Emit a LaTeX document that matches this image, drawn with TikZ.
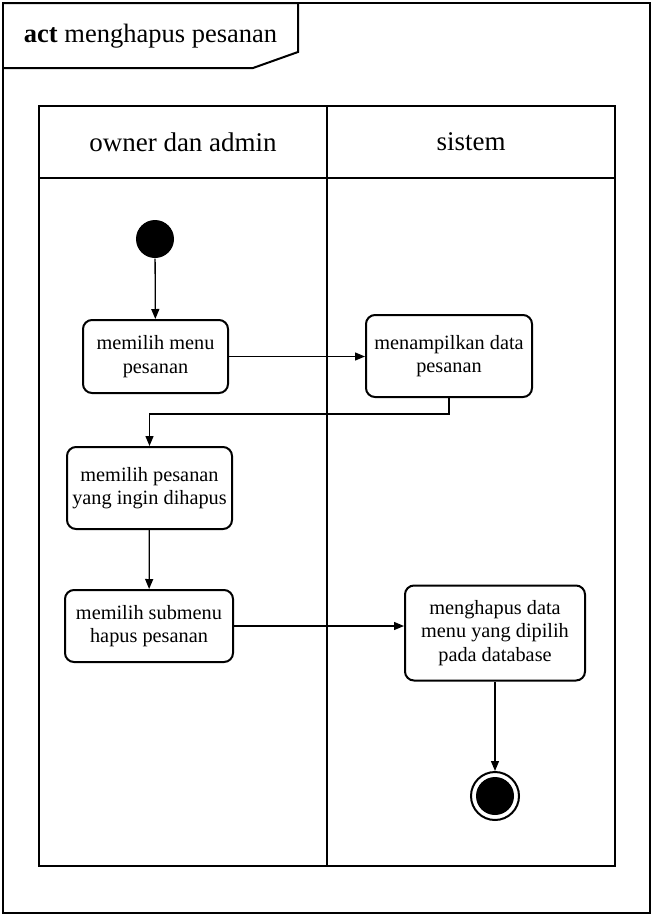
\documentclass[tikz,border=0pt]{standalone}
\usepackage{fontspec}
\setmainfont{Liberation Serif}
\usetikzlibrary{arrows.meta}
\begin{document}
\begin{tikzpicture}[x=1pt,y=-1pt,>={Triangle[length=10pt,width=8pt]},line width=1.3pt,
		activity/.style={draw,line width=2pt,rounded corners=9pt,align=center,inner sep=0pt,font=\fontsize{20.3}{23.5}\selectfont},
		lane/.style={font=\fontsize{27}{31}\selectfont}]
	\useasboundingbox (0,0) rectangle (653,916);
	% frame and title
	\draw[line width=2pt] (3,3) rectangle (650,913);
	\draw[line width=2pt] (3,3) -- (298,3) -- (298,52) -- (253,68) -- (3,68);
	\node[anchor=west,font=\fontsize{26.5}{30}\selectfont] (title) at (20,36) {\textbf{act} menghapus pesanan};
	% swimlanes
	\draw[line width=2pt] (39,106) rectangle (615,866);
	\draw[line width=2pt] (39,178) -- (615,178);
	\draw[line width=2pt] (327,106) -- (327,866);
	\node[lane] (user) at (183,142) {owner dan admin};
	\node[lane] (sys) at (471,142) {sistem};
	% nodes
	\node[circle,fill,minimum size=38pt,inner sep=0pt] (start) at (155,239) {};
	\node[activity,minimum width=145pt,minimum height=73pt] (pilihmenu) at (155.5,356.5) {memilih menu\\pesanan};
	\node[activity,minimum width=166pt,minimum height=82pt] (tampil) at (449,356) {menampilkan data\\pesanan};
	\node[activity,minimum width=165pt,minimum height=82pt] (pilihpesan) at (149.5,488) {memilih pesanan\\yang ingin dihapus};
	\node[activity,minimum width=168pt,minimum height=72pt] (submenu) at (149,626) {memilih submenu\\hapus pesanan};
	\node[activity,minimum width=180pt,minimum height=95pt] (hapus) at (495,633) {menghapus data\\menu yang dipilih\\pada database};
	\node[circle,draw,line width=2pt,minimum size=48pt,inner sep=0pt] (stop) at (495,796) {};
	\fill (stop) circle (19);
	% flows
	\draw[->] (start) -- (pilihmenu);
	\draw[->] (pilihmenu.east) -- (pilihmenu.east -| tampil.west);
	\draw[->] (tampil.south) -- ++(0,16) -| (pilihpesan.north);
	\draw[->] (pilihpesan) -- (submenu);
	\draw[->] (submenu.east) -- (submenu.east -| hapus.west);
	\draw[->] (hapus) -- (stop);
\end{tikzpicture}
\end{document}
